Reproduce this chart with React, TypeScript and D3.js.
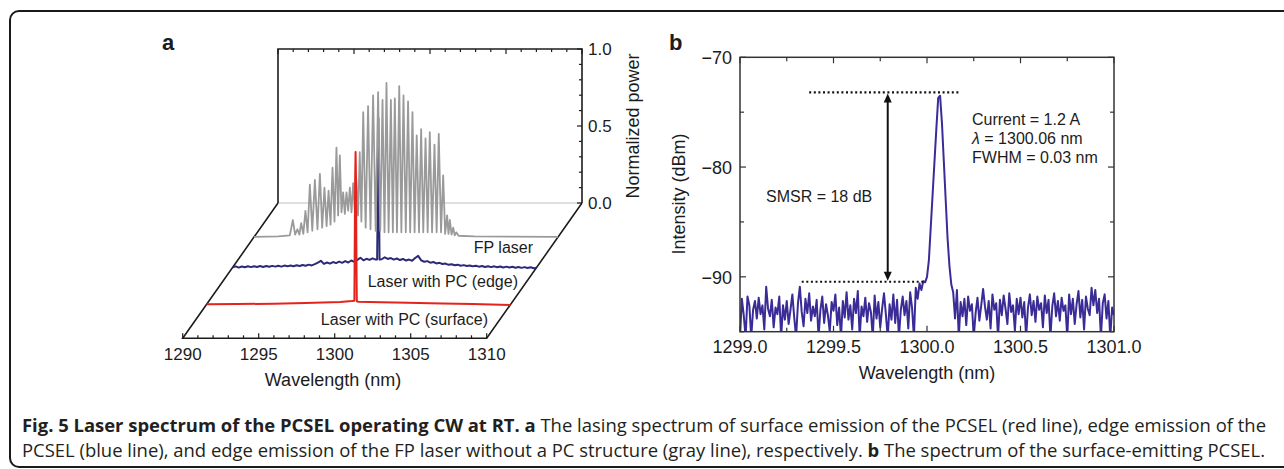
import React from 'react';
import * as d3 from 'd3';

// ---------- panel a : normalized power vs wavelength (nm) ----------
const fpLaser: [number, number][] = [
  [1290.0, 0.0], [1291.6, 0.004], [1292.35, 0.01],
  [1292.55, 0.11], [1292.7, 0.015], [1292.85, 0.05], [1292.98, 0.015],
  [1293.1, 0.09], [1293.24, 0.02], [1293.38, 0.17], [1293.52, 0.03],
  [1293.67, 0.34], [1293.83, 0.04], [1294.0, 0.37], [1294.17, 0.05],
  [1294.33, 0.41], [1294.48, 0.06], [1294.63, 0.32], [1294.77, 0.07],
  [1294.9, 0.3], [1295.03, 0.08], [1295.16, 0.45], [1295.29, 0.1],
  [1295.42, 0.58], [1295.53, 0.14], [1295.64, 0.53], [1295.75, 0.16],
  [1295.86, 0.29], [1295.97, 0.15], [1296.08, 0.29], [1296.19, 0.17],
  [1296.3, 0.32], [1296.41, 0.16], [1296.52, 0.35], [1296.62, 0.18],
  [1296.72, 0.38], [1296.84, 0.14], [1296.95, 0.55], [1297.06, 0.1],
  [1297.18, 0.81], [1297.34, 0.06], [1297.5, 0.85], [1297.66, 0.05],
  [1297.83, 0.92], [1298.0, 0.04], [1298.16, 0.94], [1298.3, 0.04],
  [1298.45, 0.89], [1298.58, 0.03], [1298.71, 1.0], [1298.85, 0.03],
  [1299.0, 0.89], [1299.13, 0.03], [1299.26, 0.9], [1299.4, 0.03],
  [1299.55, 0.98], [1299.69, 0.03], [1299.83, 0.92], [1299.98, 0.03],
  [1300.13, 0.88], [1300.27, 0.03], [1300.42, 0.81], [1300.56, 0.03],
  [1300.7, 0.66], [1300.85, 0.03], [1300.99, 0.7], [1301.13, 0.03],
  [1301.28, 0.64], [1301.42, 0.03], [1301.56, 0.68], [1301.71, 0.03],
  [1301.87, 0.6], [1302.01, 0.03], [1302.15, 0.67], [1302.3, 0.03],
  [1302.44, 0.4], [1302.57, 0.02], [1302.7, 0.14], [1302.79, 0.02],
  [1302.88, 0.11], [1302.99, 0.015], [1303.1, 0.06], [1303.2, 0.01],
  [1303.3, 0.03], [1303.45, 0.008], [1304.5, 0.004], [1310.0, 0.0],
];

// laser with PC, edge (navy): sampled every 0.2 nm from 1290, plus the lasing spike
const edgeStart = 1290.0;
const edgeStep = 0.2;
const edgeBaseline = [
  0.000, 0.006, -0.002, 0.005, 0.000, 0.007, 0.001, 0.006, 0.002, 0.008,
  0.002, 0.008, 0.003, 0.009, 0.004, 0.010, 0.004, 0.011, 0.006, 0.012,
  0.007, 0.013, 0.008, 0.015, 0.010, 0.017, 0.012, 0.020, 0.030, 0.042,
  0.022, 0.031, 0.024, 0.034, 0.027, 0.037, 0.029, 0.040, 0.031, 0.044,
  0.035, 0.048, 0.062, 0.045, 0.055, 0.048, 0.058, 0.050, 0.052, 0.052,
  0.065, 0.054, 0.060, 0.050, 0.057, 0.047, 0.054, 0.044, 0.050, 0.042,
  0.060, 0.074, 0.045, 0.036, 0.040, 0.030, 0.034, 0.025, 0.029, 0.021,
  0.024, 0.016, 0.020, 0.013, 0.017, 0.010, 0.014, 0.008, 0.012, 0.006,
  0.010, 0.004, 0.008, 0.002, 0.007, 0.001, 0.006, 0.000, 0.005, -0.001,
  0.004, -0.002, 0.003, -0.003, 0.002, -0.004, 0.001, -0.005, 0.000, -0.006,
  -0.003,
];
const edgeSpike: [number, number][] = [
  [1299.5, 0.05], [1299.55, 0.55], [1299.58, 0.97], [1299.61, 0.6], [1299.66, 0.05],
];

// laser with PC, surface (red)
const surfaceTrace: [number, number][] = [
  [1290.0, 0.0], [1292.0, 0.002], [1294.4, 0.004], [1296.5, 0.009],
  [1298.8, 0.015], [1299.55, 0.022], [1299.72, 0.024], [1299.75, 0.45],
  [1299.77, 0.8], [1299.8, 0.99], [1299.83, 0.8], [1299.85, 0.4],
  [1299.88, 0.02], [1299.98, 0.017], [1301.5, 0.014], [1303.2, 0.011],
  [1305.5, 0.006], [1307.5, 0.002], [1310.0, -0.004],
];

const aWaveTicks = [1290, 1295, 1300, 1305, 1310];
const aPowerTicks = [0.0, 0.5, 1.0];
const aRows = ['FP laser', 'Laser with PC (edge)', 'Laser with PC (surface)'];

// ---------- panel b : intensity (dBm), sampled every 0.01 nm from 1299.0 ----------
const bStart = 1299.0;
const bStep = 0.01;
const bIntensity = [
  -95.5, -92.0, -93.5, -95.5, -91.8, -92.6, -95.5, -93.0, -92.2, -93.8,
  -91.9, -93.4, -92.6, -94.8, -90.9, -92.9, -93.6, -92.1, -94.6, -92.8,
  -93.4, -91.8, -95.5, -92.6, -93.9, -92.2, -94.3, -93.0, -91.6, -93.7,
  -95.5, -92.4, -90.9, -93.2, -94.5, -92.0, -93.3, -91.5, -94.0, -92.7,
  -93.6, -92.1, -95.5, -93.0, -91.8, -94.2, -92.5, -93.5, -95.0, -92.3,
  -93.1, -91.6, -94.4, -92.8, -95.5, -92.2, -93.7, -91.4, -93.9, -92.6,
  -94.8, -92.0, -93.3, -91.3, -95.5, -92.7, -93.6, -91.9, -94.1, -92.4,
  -93.2, -95.5, -91.7, -93.8, -92.3, -94.6, -92.9, -91.5, -93.4, -95.5,
  -92.5, -93.9, -91.6, -94.2, -92.1, -95.5, -93.0, -91.8, -93.5, -92.2,
  -94.7, -91.4, -92.8, -95.5, -91.0, -92.0, -90.6, -91.2, -90.4, -90.5,
  -90.0, -88.5, -85.5, -82.5, -79.5, -76.5, -73.7, -73.5, -76.0, -79.5,
  -83.0, -86.5, -89.0, -90.7, -91.4, -93.8, -91.2, -95.5, -92.3, -93.6,
  -92.0, -94.4, -91.8, -93.1, -92.5, -95.5, -93.3, -91.9, -94.0, -92.6,
  -91.1, -92.7, -93.9, -92.2, -94.7, -91.6, -93.0, -92.4, -95.5, -92.1,
  -93.5, -91.7, -92.9, -94.3, -91.5, -93.2, -92.6, -94.9, -92.0, -93.4,
  -91.9, -93.7, -92.3, -95.5, -92.8, -91.6, -93.5, -92.2, -94.1, -91.8,
  -93.0, -92.4, -94.6, -91.7, -93.3, -92.1, -95.5, -92.7, -91.5, -93.6,
  -92.2, -94.0, -91.9, -93.1, -92.6, -95.5, -91.6, -93.4, -92.0, -94.3,
  -92.5, -91.3, -93.7, -92.1, -94.8, -91.8, -92.9, -93.5, -91.0, -92.6,
  -91.2, -93.3, -92.0, -95.5, -92.4, -91.6, -93.8, -92.2, -95.5, -92.8,
  -93.5,
];
const bWaveTicks = [1299.0, 1299.5, 1300.0, 1300.5, 1301.0];
const bIntensityTicks = [-70, -80, -90];
// SMSR markers: [from nm, to nm, level dBm]
const smsrTop = [1299.37, 1300.17, -73.2];
const smsrBottom = [1299.33, 1299.98, -90.45];
const smsrArrowAt = 1299.79;
const bNotes = ['Current = 1.2 A', '= 1300.06 nm', 'FWHM = 0.03 nm'];

const FONT = '"Liberation Sans", Arial, Helvetica, sans-serif';

function PanelA() {
  const xw = d3.scaleLinear().domain([1290, 1310]).range([278, 582]);
  const hp = d3.scaleLinear().domain([0, 1]).range([0, 154]);
  const base = 203;
  const ddx = -95.3, ddy = 135.3;
  const proj = (w: number, p: number, d: number): [number, number] =>
    [xw(w) + ddx * d, base + ddy * d - hp(p)];
  const line = (d: number) =>
    d3.line<[number, number]>().x(v => proj(v[0], v[1], d)[0]).y(v => proj(v[0], v[1], d)[1]);

  const edgePts: [number, number][] = edgeBaseline
    .map((v, i) => [edgeStart + i * edgeStep, v] as [number, number])
    .filter(p => p[0] <= edgeSpike[0][0] || p[0] >= edgeSpike[edgeSpike.length - 1][0])
    .concat(edgeSpike)
    .sort((a, b) => a[0] - b[0]);

  const depths = [0.251, 0.475, 0.749];
  const minorW = d3.range(1290, 1310.5, 1);
  const minorP = d3.range(0, 1.05, 0.1);
  const stroke = '#1c1c1c';
  const yFront = base + ddy;

  return (
    <g fontFamily={FONT} fill="#1c1c1c">
      <text x={162} y={50} fontSize={22} fontWeight="bold">a</text>
      {/* back wall */}
      <line x1={xw(1290)} x2={xw(1310)} y1={base} y2={base} stroke="#d4d4d4" strokeWidth={1.6} />
      <path d={`M${xw(1290)},${base}V${base - hp(1)}H${xw(1310)}V${base}`} fill="none" stroke={stroke} strokeWidth={1.6} />
      {minorW.map(w => (
        <line key={'tt' + w} x1={xw(w)} x2={xw(w)} y1={base - hp(1)} y2={base - hp(1) + (w % 5 === 0 ? 5 : 3)} stroke={stroke} strokeWidth={1.2} />
      ))}
      {minorP.map(p => (
        <line key={'rt' + p} x1={xw(1310)} x2={xw(1310) - (Math.abs(p * 2 - Math.round(p * 2)) < 1e-6 ? 5 : 3)} y1={base - hp(p)} y2={base - hp(p)} stroke={stroke} strokeWidth={1.2} />
      ))}
      {aPowerTicks.map(p => (
        <text key={'rl' + p} x={588} y={base - hp(p) + 6} fontSize={17}>{p.toFixed(1)}</text>
      ))}
      <text transform={`translate(639,${base - hp(0.5)}) rotate(-90)`} textAnchor="middle" fontSize={18}>Normalized power</text>
      {/* floor */}
      <path d={`M${xw(1290)},${base}L${xw(1290) + ddx},${yFront}H${xw(1310) + ddx}L${xw(1310)},${base}`} fill="none" stroke={stroke} strokeWidth={1.6} />
      {minorW.map(w => (
        <line key={'ft' + w} x1={xw(w) + ddx} x2={xw(w) + ddx} y1={yFront} y2={yFront - (w % 5 === 0 ? 5 : 3)} stroke={stroke} strokeWidth={1.2} />
      ))}
      {aWaveTicks.map(w => (
        <text key={'fl' + w} x={xw(w) + ddx} y={yFront + 22} textAnchor="middle" fontSize={17}>{w}</text>
      ))}
      <text x={333} y={386} textAnchor="middle" fontSize={18}>Wavelength (nm)</text>
      {/* traces */}
      <path d={line(depths[1])(edgePts) || ''} fill="none" stroke="#2c2a78" strokeWidth={2} strokeLinejoin="round" />
      <path d={line(depths[0])(fpLaser) || ''} fill="none" stroke="#9a9a9a" strokeWidth={1.8} strokeLinejoin="round" />
      <path d={line(depths[2])(surfaceTrace) || ''} fill="none" stroke="#e5231d" strokeWidth={2} strokeLinejoin="round" />
      {/* row labels */}
      {aRows.map((t, i) => (
        <text key={t} x={[533, 518, 488][i]} y={[253, 287, 325][i]} textAnchor="end" fontSize={16}>{t}</text>
      ))}
    </g>
  );
}

function PanelB() {
  const x = d3.scaleLinear().domain([1299, 1301]).range([740, 1114]);
  const y = d3.scaleLinear().domain([-95, -70]).range([331.7, 57.3]);
  const pts: [number, number][] = bIntensity.map((v, i) => [bStart + i * bStep, v]);
  const path = d3.line<[number, number]>().x(d => x(d[0])).y(d => y(d[1]))(pts) || '';
  const stroke = '#333';
  const minorX = d3.range(1299, 1301.01, 0.25);
  const minorY = d3.range(-95, -69.9, 5);
  const [x0, x1, y0, y1] = [x(1299), x(1301), y(-95), y(-70)];
  const ax = x(smsrArrowAt);
  const ay1 = y(smsrTop[2]);
  const ay2 = y(smsrBottom[2]);

  return (
    <g fontFamily={FONT} fill="#1c1c1c">
      <defs>
        <clipPath id="bclip"><rect x={x0} y={y1} width={x1 - x0} height={y0 - y1} /></clipPath>
      </defs>
      <text x={669} y={50} fontSize={22} fontWeight="bold">b</text>
      <path d={path} fill="none" stroke="#3a2c97" strokeWidth={2} strokeLinejoin="round" clipPath="url(#bclip)" />
      <rect x={x0} y={y1} width={x1 - x0} height={y0 - y1} fill="none" stroke={stroke} strokeWidth={1.5} />
      {minorX.map(w => {
        const len = Math.abs(w * 2 - Math.round(w * 2)) < 1e-6 ? 6 : 4;
        return (
          <g key={'bx' + w}>
            <line x1={x(w)} x2={x(w)} y1={y0} y2={y0 - len} stroke={stroke} strokeWidth={1.2} />
            <line x1={x(w)} x2={x(w)} y1={y1} y2={y1 + len} stroke={stroke} strokeWidth={1.2} />
          </g>
        );
      })}
      {minorY.map(v => {
        const len = Math.round(v) % 10 === 0 ? 6 : 4;
        return (
          <g key={'by' + v}>
            <line x1={x0} x2={x0 + len} y1={y(v)} y2={y(v)} stroke={stroke} strokeWidth={1.2} />
            <line x1={x1} x2={x1 - len} y1={y(v)} y2={y(v)} stroke={stroke} strokeWidth={1.2} />
          </g>
        );
      })}
      {bWaveTicks.map(w => (
        <text key={'bxl' + w} x={x(w)} y={353} textAnchor="middle" fontSize={18}>{w.toFixed(1)}</text>
      ))}
      {bIntensityTicks.map(v => (
        <text key={'byl' + v} x={732} y={y(v) + 7} textAnchor="end" fontSize={18}>{'\u2212' + Math.abs(v)}</text>
      ))}
      <text x={927} y={379} textAnchor="middle" fontSize={18}>Wavelength (nm)</text>
      <text transform={`translate(685,194) rotate(-90)`} textAnchor="middle" fontSize={18}>Intensity (dBm)</text>
      {/* SMSR annotation */}
      <line x1={x(smsrTop[0])} x2={x(smsrTop[1])} y1={ay1} y2={ay1} stroke="#111" strokeWidth={2.2} strokeDasharray="2,2.6" />
      <line x1={x(smsrBottom[0])} x2={x(smsrBottom[1])} y1={ay2} y2={ay2} stroke="#111" strokeWidth={2.2} strokeDasharray="2,2.6" />
      <line x1={ax} x2={ax} y1={ay1 + 6} y2={ay2 - 6} stroke="#111" strokeWidth={2} />
      <path d={`M${ax},${ay1 + 1}l-4,9h8z`} fill="#111" />
      <path d={`M${ax},${ay2 - 1}l-4,-9h8z`} fill="#111" />
      <text x={766} y={202} fontSize={16}>SMSR = 18 dB</text>
      <text x={972} y={125} fontSize={16}>{bNotes[0]}</text>
      <text x={972} y={144} fontSize={16}><tspan fontStyle="italic">λ</tspan> {bNotes[1]}</text>
      <text x={972} y={163} fontSize={16}>{bNotes[2]}</text>
    </g>
  );
}

function Caption() {
  const f = '"Open Sans", "Noto Sans", sans-serif';
  return (
    <g fontFamily={f} fontSize={18} fill="#231f20">
      <text x={22} y={432} textLength={1244} lengthAdjust="spacingAndGlyphs">
        <tspan fontWeight="bold">Fig. 5 Laser spectrum of the PCSEL operating CW at RT. a</tspan>
        <tspan> The lasing spectrum of surface emission of the PCSEL (red line), edge emission of the</tspan>
      </text>
      <text x={22} y={457} textLength={1243} lengthAdjust="spacingAndGlyphs">
        <tspan>PCSEL (blue line), and edge emission of the FP laser without a PC structure (gray line), respectively. </tspan>
        <tspan fontWeight="bold">b</tspan>
        <tspan> The spectrum of the surface-emitting PCSEL.</tspan>
      </text>
    </g>
  );
}

export default function App() {
  return (
    <svg width={1284} height={469} viewBox="0 0 1284 469"
      style={{ position: 'absolute', left: 0, top: 0, display: 'block', background: '#fff' }}>
      <rect x={0} y={0} width={1284} height={469} fill="#fff" />
      <rect x={10} y={11} width={1290} height={456} rx={9} fill="none" stroke="#1a1a1a" strokeWidth={2} />
      <PanelA />
      <PanelB />
      <Caption />
    </svg>
  );
}
